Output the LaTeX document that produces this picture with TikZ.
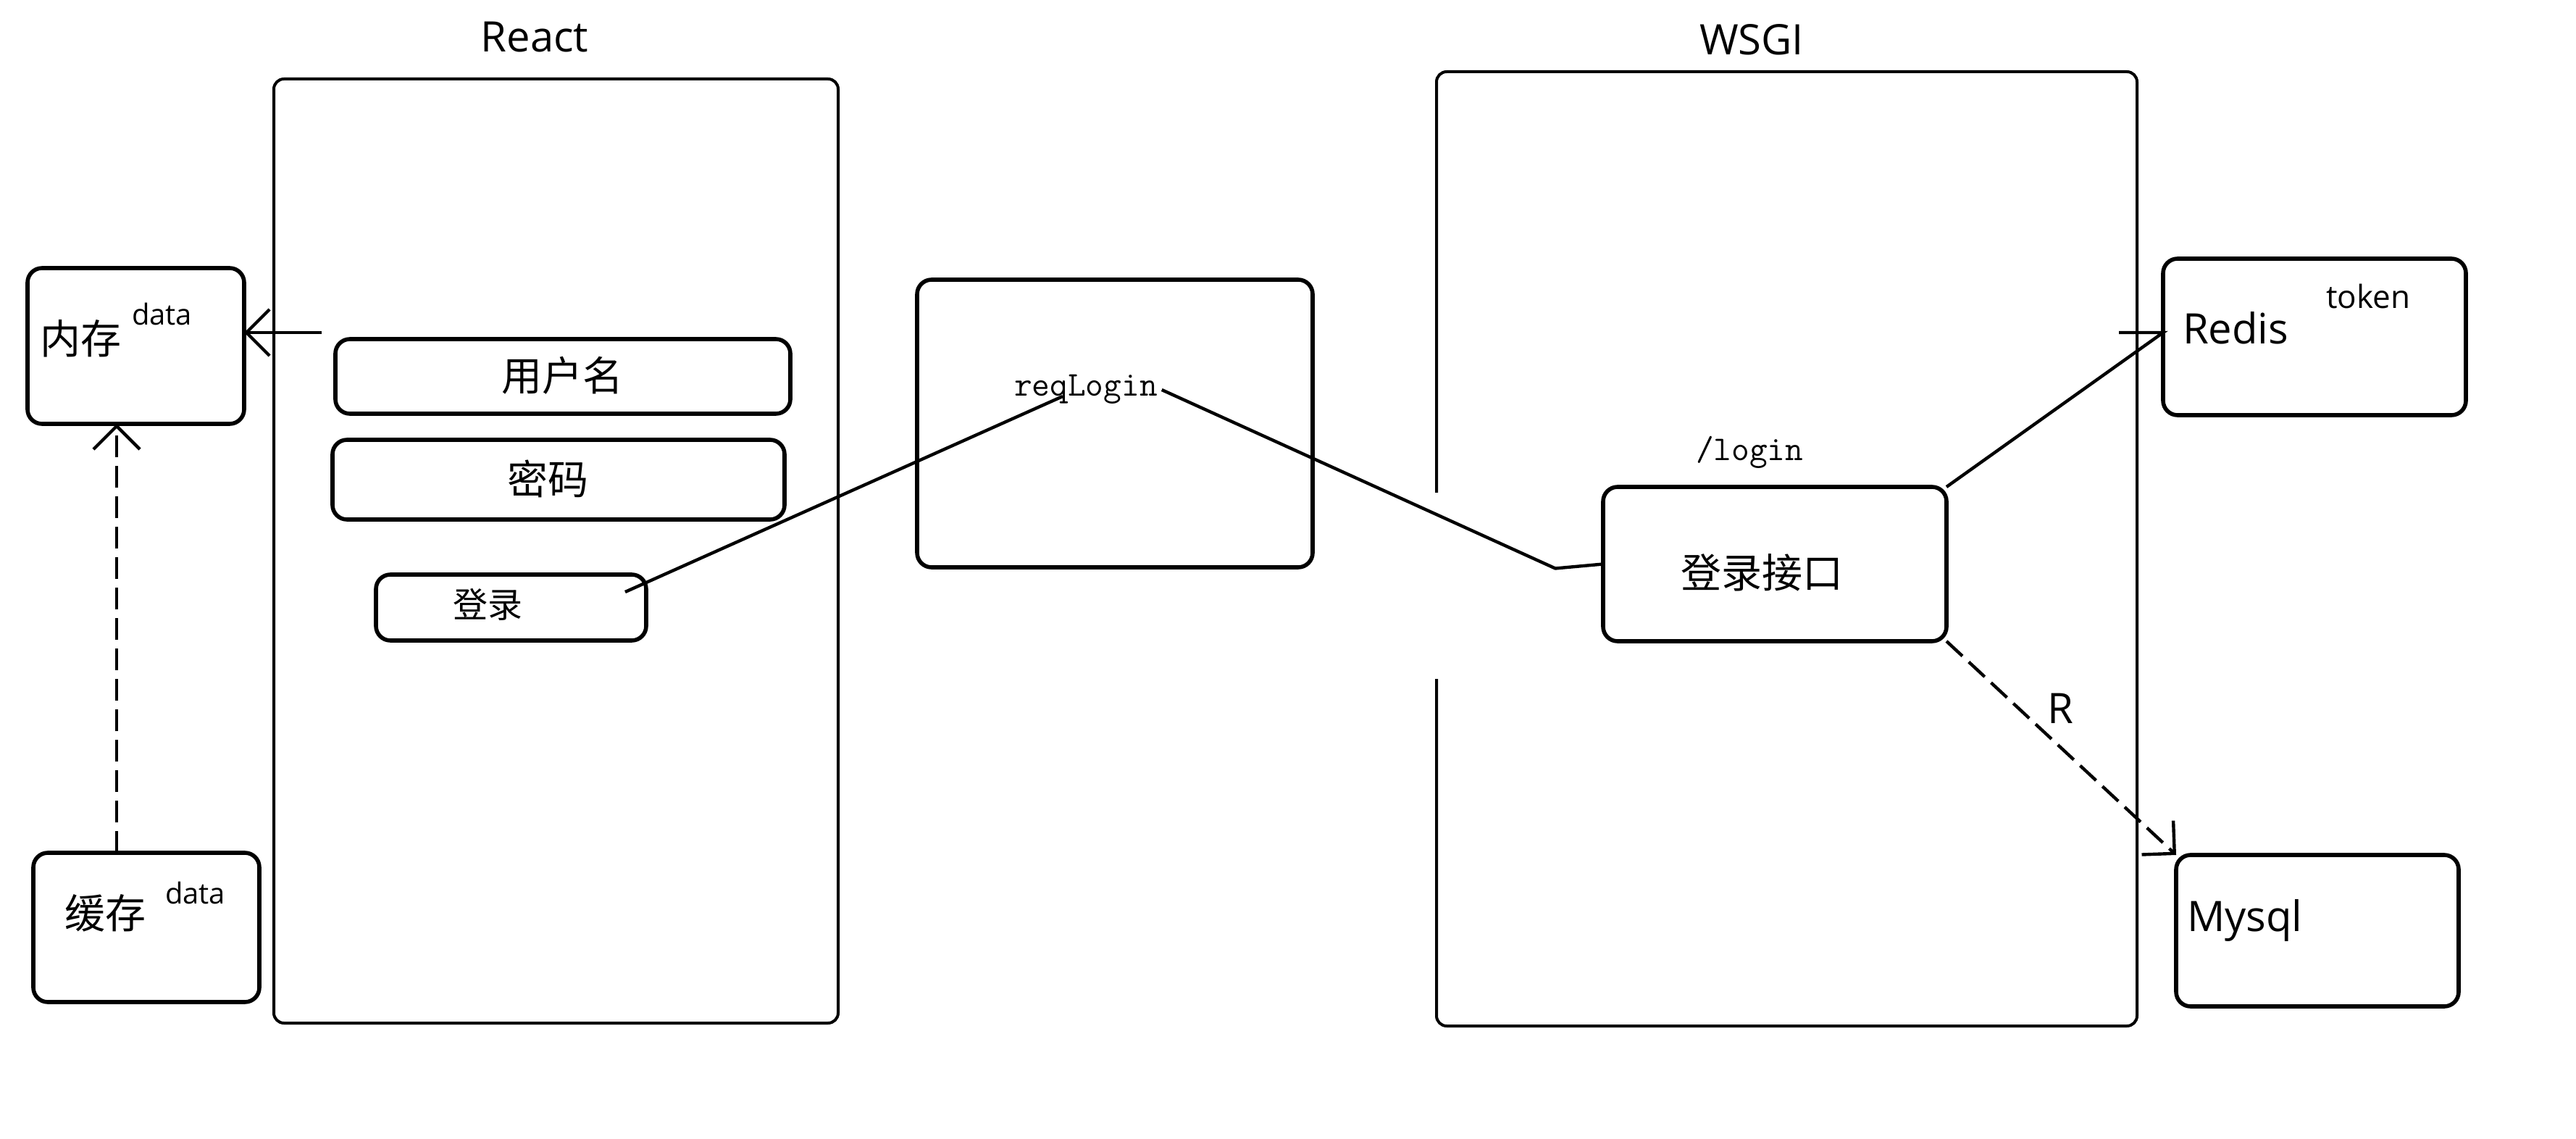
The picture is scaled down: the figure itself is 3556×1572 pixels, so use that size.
\documentclass[tikz,border=0pt]{standalone}
\usepackage{fontspec}
\setmainfont{Open Sans}
\newfontfamily\cjk{Noto Sans CJK SC}
\usetikzlibrary{arrows.meta,fit,calc}
\begin{document}
\begin{tikzpicture}[x=0.25pt,y=-0.25pt,
  frame/.style={draw, line width=1pt, rounded corners=3.5pt, inner sep=0pt, outer sep=0pt},
  sbox/.style={draw, line width=1.4pt, rounded corners=5pt, inner sep=0pt, outer sep=0pt},
  conn/.style={line width=1.1pt},
  dconn/.style={line width=1.1pt, dash pattern=on 7.5pt off 3pt},
  barb/.style={-{Straight Barb[length=8pt,width=16pt]}},
  lbl/.style={font=\fontsize{14.5pt}{17pt}\selectfont, inner sep=0pt, outer sep=0pt},
  cjkl/.style={font=\cjk\fontsize{14pt}{17pt}\selectfont, inner sep=0pt, outer sep=0pt},
  cjks/.style={font=\cjk\fontsize{12pt}{14pt}\selectfont, inner sep=0pt, outer sep=0pt},
  small/.style={font=\fontsize{10pt}{12pt}\selectfont, inner sep=0pt, outer sep=0pt},
  tok/.style={font=\fontsize{11pt}{13pt}\selectfont, inner sep=0pt, outer sep=0pt},
  code/.style={font=\ttfamily\fontsize{12pt}{14pt}\selectfont, inner sep=0pt, outer sep=0pt}]
\useasboundingbox (0,0) rectangle (3556,1572);

% big frames
\node[frame, fit={(378,109) (1157,1412)}] (react) {};
\node[lbl] (reacttitle) at (738,51) {React};
\node[inner sep=0pt, outer sep=0pt, fit={(1983,99) (2950,1416)}] (wsgi) {};
\draw[line width=1pt, rounded corners=3.5pt] (1983,680) -- (wsgi.north west) -- (wsgi.north east) -- (wsgi.south east) -- (wsgi.south west) -- (1983,937);
\node[lbl] (wsgititle) at (2418,55) {WSGI};

% left stores
\node[sbox, fit={(38,370) (337,585)}] (mem) {};
\node[cjkl, anchor=west] (memt) at (55,467) {内存};
\node[small, anchor=base west] (memd) at (182,449) {data};
\node[sbox, fit={(46,1177) (358,1383)}] (cache) {};
\node[cjkl, anchor=west] (cachet) at (89,1260) {缓存};
\node[small, anchor=base west] (cached) at (228,1247) {data};

% form fields
\node[sbox, fit={(463,468) (1091,571)}] (user) {};
\node[cjkl] (usert) at (776,518) {用户名};
\node[sbox, fit={(459,607) (1083,717)}] (pwd) {};
\node[cjkl] (pwdt) at (756,661) {密码};
\node[sbox, fit={(519,793) (892,884)}] (btn) {};
\node[cjks] (btnt) at (673,834) {登录};

% request
\node[sbox, fit={(1266,386) (1812,783)}] (req) {};
\node[code, anchor=base west] (reqt) at (1400,547) {reqLogin};

% server side
\node[code, anchor=base west] (logint) at (2341,636) {/login};
\node[sbox, fit={(2213,672) (2687,885)}] (api) {};
\node[cjkl] (apit) at (2432,790) {登录接口};
\node[sbox, fit={(2986,357) (3404,573)}] (redis) {};
\node[lbl, anchor=base west] (redist) at (3013,475) {Redis};
\node[tok, anchor=base west] (token) at (3211,426) {token};
\node[sbox, fit={(3004,1180) (3394,1389)}] (mysql) {};
\node[lbl, anchor=base west] (mysqlt) at (3019,1285) {Mysql};
\node[lbl] (rlbl) at (2844,978) {R};

% connectors
\coordinate (a1) at (444,459);
\draw[conn, barb] (a1) -- (a1 -| mem.east);
\coordinate (dx) at (161,0);
\draw[dconn, barb] (dx |- cache.north) -- (dx |- mem.south);
\draw[conn] ($(btn.north east)+(-29,24)$) -- ($(reqt.base west)+(67,0)$);
\draw[conn] ($(reqt.base east)+(6,-9)$) -- ($(api.west)+(-66,6)$) -- (api.west);
\draw[conn] (api.north east) -- ($(redis.west)+(0,-6)$) -- ++(-61,0);
\draw[dconn, barb] (api.south east) -- (mysql.north west);
\end{tikzpicture}
\end{document}
